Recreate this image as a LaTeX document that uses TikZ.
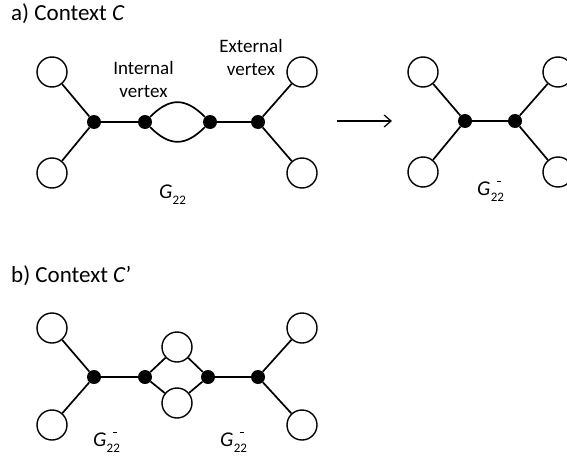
\documentclass[tikz,border=0pt]{standalone}
\usepackage{fontspec}
\setmainfont{Carlito}
\usetikzlibrary{arrows.meta}
\newcommand{\subtwo}{\raisebox{-0.32em}{\fontsize{13}{13}\selectfont 22}}
\newcommand{\Gsub}{\fontsize{21}{21}\selectfont\textit{G}\kern0.3pt\subtwo}
\newcommand{\Gminus}{\fontsize{21}{21}\selectfont\textit{G}\kern0.3pt\rlap{\kern6pt\raisebox{13pt}{\rule{4pt}{1.4pt}}}\subtwo}
\begin{document}
\begin{tikzpicture}[x=1pt,y=-1pt,
  ring/.style={circle,draw,line width=1.4pt,minimum size=30pt,inner sep=0pt},
  dot/.style={circle,fill=black,minimum size=14pt,inner sep=0pt},
  edge/.style={line width=1.7pt},
  lbl/.style={font=\fontsize{19}{19}\selectfont,anchor=base,inner sep=0pt},
  ttl/.style={font=\fontsize{23}{23}\selectfont,anchor=base west,inner sep=0pt},
  glbl/.style={anchor=base west,inner sep=0pt}]
\useasboundingbox (0,0) rectangle (567,455);
% ---------- a) ----------
\node[ttl] (ta) at (11,20) {a) Context \textit{C}};
\node[ring] (a1) at (52,72) {};
\node[ring] (a2) at (52,173) {};
\node[ring] (a3) at (302,72) {};
\node[ring] (a4) at (302,173) {};
\node[dot] (ad1) at (94,122) {};
\node[dot] (ad2) at (145,122) {};
\node[dot] (ad3) at (210,122) {};
\node[dot] (ad4) at (258,122) {};
\draw[edge] (a1) -- (ad1);
\draw[edge] (a2) -- (ad1);
\draw[edge] (ad1) -- (ad2);
\draw[edge] (ad2) to[out=45,in=135,looseness=1.3] (ad3);
\draw[edge] (ad2) to[out=-45,in=-135,looseness=1.3] (ad3);
\draw[edge] (ad3) -- (ad4);
\draw[edge] (ad4) -- (a3);
\draw[edge] (ad4) -- (a4);
\node[lbl] (int1) at (143.5,74) {Internal};
\node[lbl] (int2) at (143.5,97) {vertex};
\node[lbl] (ext1) at (251,52) {External};
\node[lbl] (ext2) at (251,75) {vertex};
\node[glbl] (g1) at (159,198) {\Gsub};
% arrow
\coordinate (arrS) at (337,121);
\coordinate (arrE) at (392,121);
\draw[line width=1.2pt,-{Straight Barb[length=7pt,width=12pt,line width=1.2pt]}] (arrS) -- (arrE);
% right graph
\node[ring] (r1) at (423,72) {};
\node[ring] (r2) at (423,172) {};
\node[ring] (r3) at (558,72) {};
\node[ring] (r4) at (558,172) {};
\node[dot] (rd1) at (465,121) {};
\node[dot] (rd2) at (515,121) {};
\draw[edge] (r1) -- (rd1);
\draw[edge] (r2) -- (rd1);
\draw[edge] (rd1) -- (rd2);
\draw[edge] (rd2) -- (r3);
\draw[edge] (rd2) -- (r4);
\node[glbl] (g2) at (477,195) {\Gminus};
% ---------- b) ----------
\node[ttl] (tb) at (11,282) {b) Context \textit{C}’};
\node[ring] (b1) at (52,328) {};
\node[ring] (b2) at (52,425) {};
\node[ring] (b3) at (302,328) {};
\node[ring] (b4) at (302,425) {};
\node[ring] (bm1) at (177,347) {};
\node[ring] (bm2) at (177,403) {};
\node[dot] (bd1) at (94,377) {};
\node[dot] (bd2) at (145,377) {};
\node[dot] (bd3) at (208,377) {};
\node[dot] (bd4) at (258,377) {};
\draw[edge] (b1) -- (bd1);
\draw[edge] (b2) -- (bd1);
\draw[edge] (bd1) -- (bd2);
\draw[edge] (bd2) -- (bm1);
\draw[edge] (bd2) -- (bm2);
\draw[edge] (bm1) -- (bd3);
\draw[edge] (bm2) -- (bd3);
\draw[edge] (bd3) -- (bd4);
\draw[edge] (bd4) -- (b3);
\draw[edge] (bd4) -- (b4);
\node[glbl] (g3) at (93,446) {\Gminus};
\node[glbl] (g4) at (220,446) {\Gminus};
\end{tikzpicture}
\end{document}
